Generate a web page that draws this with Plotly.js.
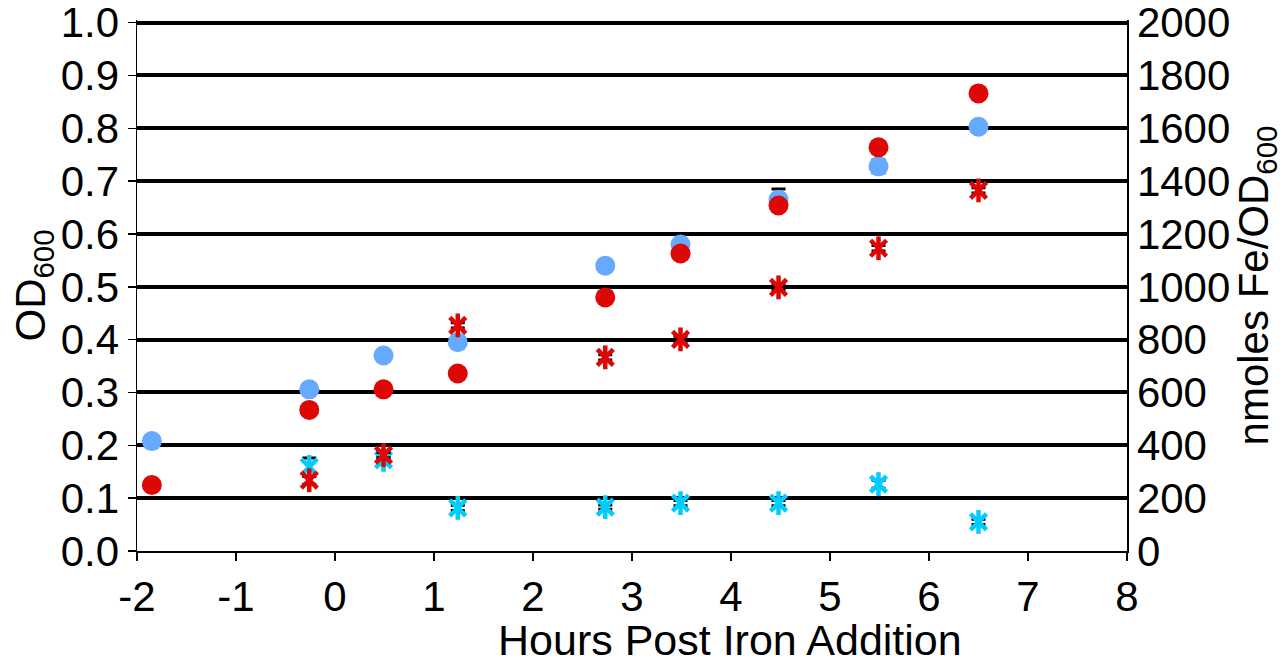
<!DOCTYPE html>
<html>
<head>
<meta charset="utf-8">
<script src="https://cdn.plot.ly/plotly-3.0.1.min.js"></script>
<style>html,body{margin:0;padding:0;background:#fff;}#chart{width:1286px;height:668px;}</style>
</head>
<body>
<div id="chart"></div>
<script>
// Hours post iron addition
const hoursOD = [-1.85, -0.26, 0.49, 1.24, 2.73, 3.49, 4.48, 5.49, 6.50];
const odBlue = [0.208, 0.306, 0.370, 0.395, 0.540, 0.580, 0.665, 0.728, 0.803];
const odBlueErr = [0, 0.003, 0.006, 0.004, 0, 0.019, 0.02, 0.012, 0.008];
const odRed = [0.125, 0.267, 0.306, 0.336, 0.480, 0.563, 0.654, 0.764, 0.866];
const odRedErr = [0, 0, 0.006, 0.006, 0, 0.008, 0.008, 0.01, 0.004];

const hoursFe = [-0.26, 0.49, 1.24, 2.73, 3.49, 4.48, 5.49, 6.50];
const feCyan = [318, 345, 163, 166, 181, 181, 253, 110];
const feCyanErr = [34, 10, 10, 8, 10, 10, 15, 10];
const feRed = [268, 363, 854, 733, 801, 998, 1146, 1365];
const feRedErr = [15, 10, 10, 10, 12, 10, 10, 10];

const xTickVals = [-2, -1, 0, 1, 2, 3, 4, 5, 6, 7, 8];
const xTickText = ['-2', '-1', '0', '1', '2', '3', '4', '5', '6', '7', '8'];

const FONT = 'Arial, "Liberation Sans", Helvetica, sans-serif';
const BLUE = 'rgb(102,170,255)';
const RED = 'rgb(221,8,6)';
const CYAN = 'rgb(0,204,255)';

function errY(arr, w) {
  return {type: 'data', array: arr, visible: true, color: 'black', thickness: 3, width: w};
}
function starTraces(x, y, err, color) {
  return [
    {x: x, y: y, yaxis: 'y2', type: 'scatter', mode: 'markers', showlegend: false,
     error_y: errY(err, 7),
     marker: {symbol: 'x-thin-open', size: 16, color: color, line: {color: color, width: 4.5}}},
    {x: x, y: y, yaxis: 'y2', type: 'scatter', mode: 'markers', showlegend: false,
     marker: {symbol: 'line-ns-open', size: 17, color: color, line: {color: color, width: 4.5}}}
  ];
}

const data = [
  ...starTraces(hoursFe, feCyan, feCyanErr, CYAN),
  ...starTraces(hoursFe, feRed, feRedErr, RED),
  {x: hoursOD, y: odBlue, type: 'scatter', mode: 'markers', showlegend: false,
   error_y: errY(odBlueErr, 7),
   marker: {symbol: 'circle', size: 20, color: BLUE}},
  {x: hoursOD, y: odRed, type: 'scatter', mode: 'markers', showlegend: false,
   error_y: errY(odRedErr, 7),
   marker: {symbol: 'circle', size: 20, color: RED}}
];

const TF = {family: FONT, size: 42, color: '#000'};

const layout = {
  width: 1286, height: 668,
  margin: {l: 137, r: 159, t: 20, b: 117},
  paper_bgcolor: '#fff', plot_bgcolor: '#fff',
  font: TF,
  showlegend: false,
  xaxis: {
    range: [-2, 8], tickmode: 'array', tickvals: xTickVals, ticktext: xTickText,
    showgrid: false, zeroline: false,
    showline: true, linecolor: '#000', linewidth: 1.5,
    ticks: 'outside', ticklen: 8, tickwidth: 1.5, tickcolor: '#000',
    tickfont: TF, ticklabeloverflow: 'allow'
  },
  yaxis: {
    range: [0, 1.005], dtick: 0.1, tick0: 0, tickformat: '.1f',
    showgrid: true, gridcolor: '#000', gridwidth: 4, zeroline: false,
    showline: true, linecolor: '#000', linewidth: 1.5,
    ticks: 'outside', ticklen: 8, tickwidth: 1.5, tickcolor: '#000',
    tickfont: TF, ticklabeloverflow: 'allow',
    title: {text: 'OD<sub>600</sub>', font: TF, standoff: 2}
  },
  yaxis2: {
    range: [0, 2010], dtick: 200, tick0: 0,
    overlaying: 'y', side: 'right',
    showgrid: false, zeroline: false,
    showline: true, linecolor: '#000', linewidth: 1.5,
    ticks: 'inside', ticklen: 8, tickwidth: 1.5, tickcolor: '#000',
    tickfont: TF, ticklabeloverflow: 'allow',
    title: {text: 'nmoles Fe/OD<sub>600</sub>', font: TF, standoff: 2}
  },
  annotations: [{
    text: 'Hours Post Iron Addition', xref: 'paper', yref: 'paper',
    x: 0.599, y: -0.168, xanchor: 'center', yanchor: 'middle',
    showarrow: false, font: {family: FONT, size: 43, color: '#000'}
  }]
};

Plotly.newPlot('chart', data, layout, {displayModeBar: false, staticPlot: true});
</script>
</body>
</html>
